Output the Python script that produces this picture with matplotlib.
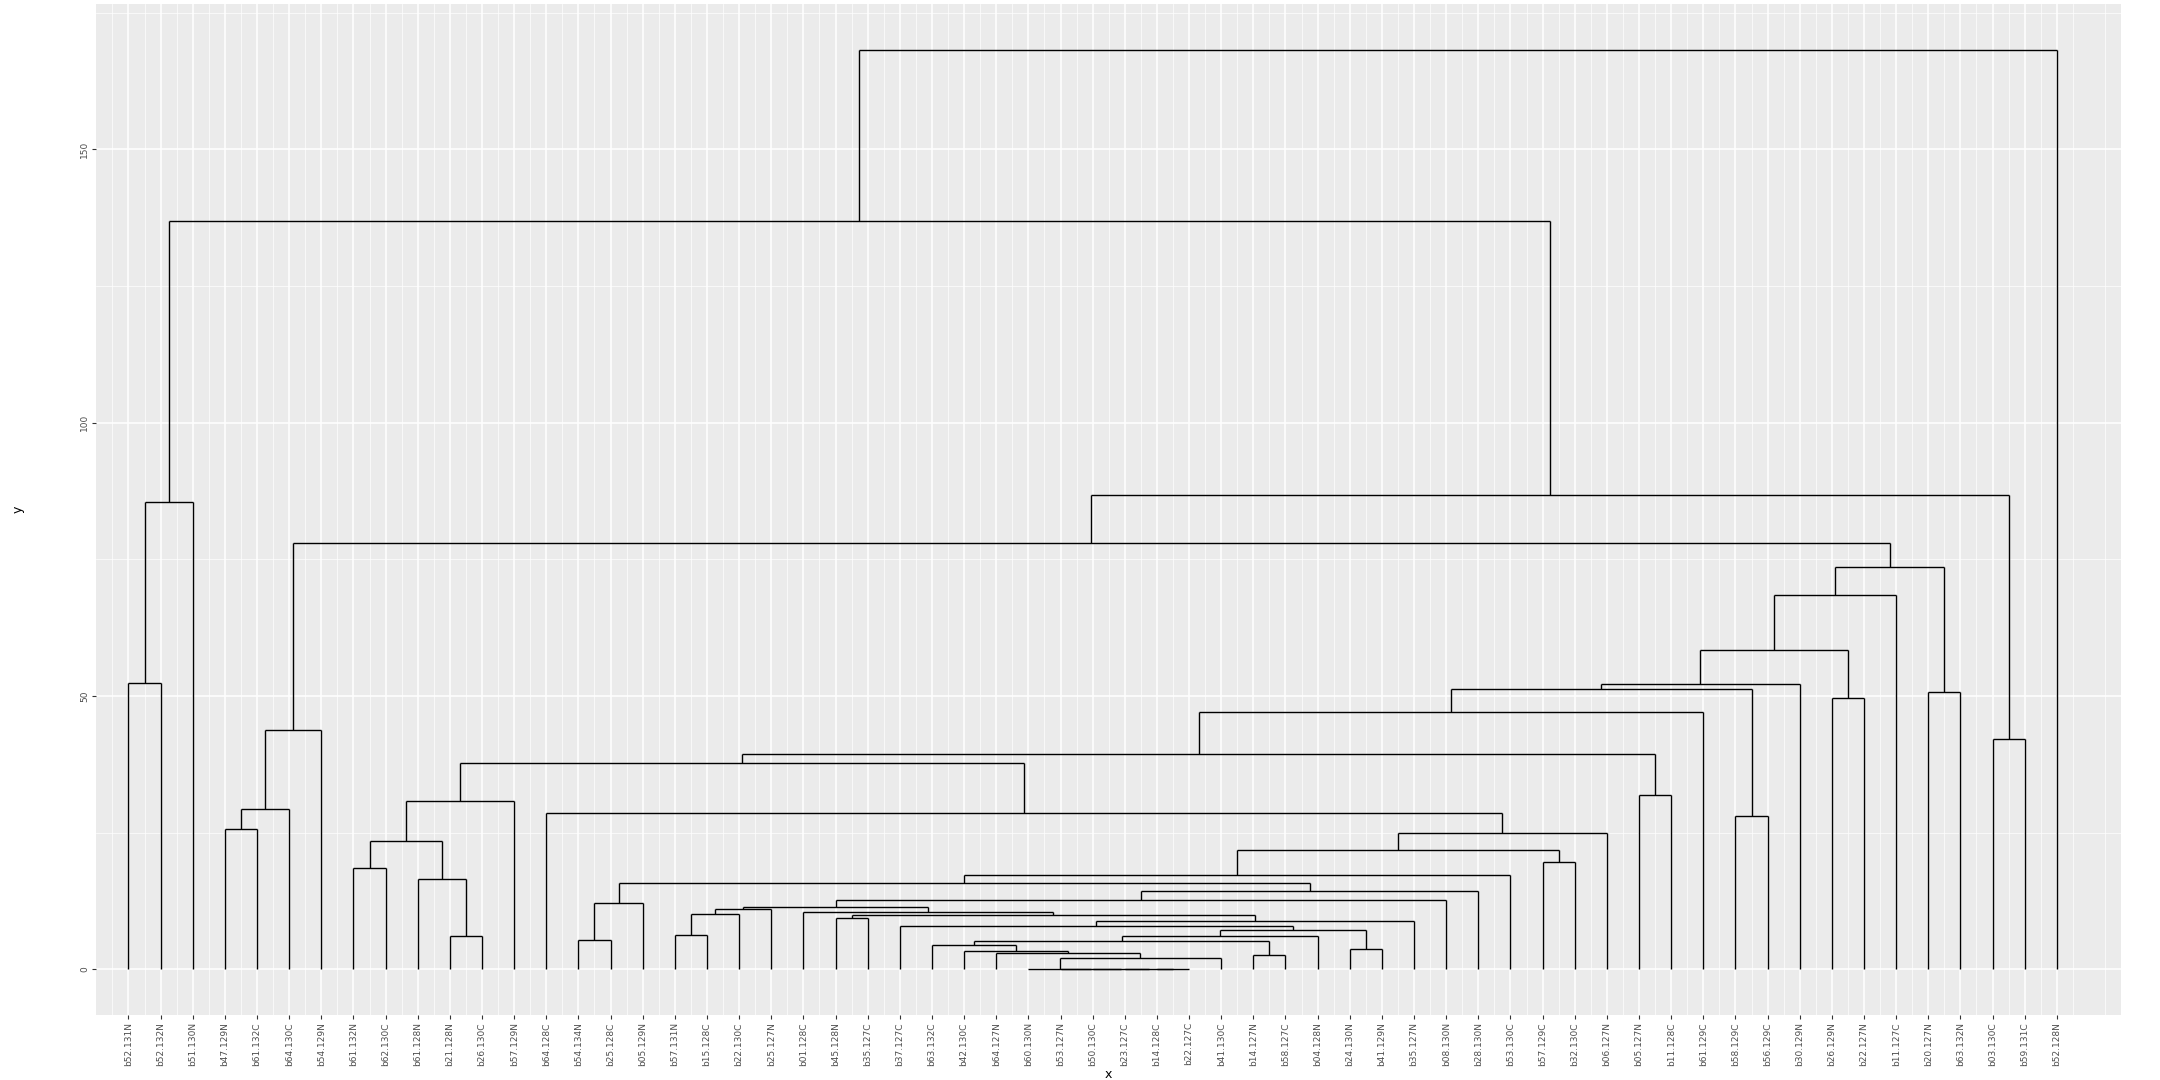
import matplotlib
matplotlib.use('Agg')
import matplotlib.pyplot as plt
from matplotlib.ticker import MultipleLocator

# Leaf labels, left to right
labels = ['b52.131N', 'b52.132N', 'b51.130N', 'b47.129N', 'b61.132C', 'b64.130C', 'b54.129N',
          'b61.132N', 'b62.130C', 'b61.128N', 'b21.128N', 'b26.130C', 'b57.129N', 'b64.128C',
          'b54.134N', 'b25.128C', 'b05.129N', 'b57.131N', 'b15.128C', 'b22.130C', 'b25.127N',
          'b01.128C', 'b45.128N', 'b35.127C', 'b37.127C', 'b63.132C', 'b42.130C', 'b64.127N',
          'b60.130N', 'b53.127N', 'b50.130C', 'b23.127C', 'b14.128C', 'b22.127C', 'b41.130C',
          'b14.127N', 'b58.127C', 'b04.128N', 'b24.130N', 'b41.129N', 'b35.127N', 'b08.130N',
          'b28.130N', 'b53.130C', 'b57.129C', 'b32.130C', 'b06.127N', 'b05.127N', 'b11.128C',
          'b61.129C', 'b58.129C', 'b56.129C', 'b30.129N', 'b26.129N', 'b22.127N', 'b11.127C',
          'b20.127N', 'b63.132N', 'b03.130C', 'b59.131C', 'b52.128N']

# Merges: 'L<n>' = leaf n (1-based), 'M<k>' = k-th merge
merge_left = ['L33', 'L32', 'L31', 'L30', 'L29', 'M4', 'L28', 'L27', 'L26', 'L36',
              'M8', 'M10', 'L39', 'M11', 'L25', 'M14', 'L23', 'M16', 'L22', 'L18',
              'M19', 'M20', 'M21', 'M22', 'M23', 'L15', 'M25', 'M26', 'M27', 'L45',
              'M28', 'M30', 'L14', 'L8', 'L11', 'L10', 'M33', 'M36', 'M37', 'L48',
              'M38', 'M40', 'L51', 'M41', 'M43', 'L54', 'M44', 'M46', 'L57', 'M47',
              'L4', 'M50', 'M51', 'M52', 'L59', 'M53', 'L1', 'M56', 'M57', 'M58']
merge_right = ['L34', 'M0', 'M1', 'M2', 'M3', 'L35', 'M5', 'M6', 'M7', 'L37',
               'M9', 'L38', 'L40', 'M12', 'M13', 'L41', 'L24', 'M15', 'M17', 'L19',
               'L20', 'L21', 'M18', 'L42', 'L43', 'L16', 'L17', 'M24', 'L44', 'L46',
               'M29', 'L47', 'M31', 'L9', 'L12', 'M34', 'M35', 'L13', 'M32', 'L49',
               'M39', 'L50', 'L52', 'M42', 'L53', 'L55', 'M45', 'L56', 'L58', 'M48',
               'L5', 'L6', 'L7', 'M49', 'L60', 'M54', 'L2', 'L3', 'M55', 'L61']
merge_height = [0, 0, 0, 0, 0, 2.0, 2.9, 3.3, 4.5, 2.7,
                5.2, 6.1, 3.7, 7.1, 7.9, 8.8, 9.3, 10.0, 10.4, 6.3,
                10.1, 11.1, 11.4, 12.6, 14.3, 5.3, 12.1, 15.8, 17.3, 19.6,
                21.9, 24.9, 28.6, 18.6, 6.0, 16.6, 23.4, 30.7, 37.7, 31.9,
                39.4, 47.0, 28.0, 51.2, 52.1, 49.6, 58.4, 68.5, 50.8, 73.6,
                25.6, 29.4, 43.7, 78.0, 42.2, 86.8, 52.3, 85.4, 136.9, 168.1]

fig = plt.figure(figsize=(21.6, 10.8), dpi=100)
ax = fig.add_axes([0.0446, 0.060, 0.9374, 0.936])
ax.set_facecolor('#EBEBEB')

pos = {}
hgt = {}
for i in range(len(labels)):
    pos['L%d' % (i + 1)] = i + 1
    hgt['L%d' % (i + 1)] = 0.0

for k, (a, b, h) in enumerate(zip(merge_left, merge_right, merge_height)):
    xa, xb = pos[a], pos[b]
    ax.plot([xa, xb], [h, h], color='black', lw=1.0, solid_capstyle='butt', zorder=3)
    ax.plot([xa, xa], [hgt[a], h], color='black', lw=1.0, solid_capstyle='butt', zorder=3)
    ax.plot([xb, xb], [hgt[b], h], color='black', lw=1.0, solid_capstyle='butt', zorder=3)
    pos['M%d' % k] = (xa + xb) / 2
    hgt['M%d' % k] = h

ax.set_xlim(0.0, 63.0)
ax.set_ylim(-8.4, 176.5)
ax.set_xticks(range(1, len(labels) + 1))
ax.set_xticklabels(labels, rotation=90, fontsize=6.5, color='#4D4D4D')
ax.set_xticks([i + 0.5 for i in range(0, len(labels) + 2)], minor=True)
ax.yaxis.set_major_locator(MultipleLocator(50))
ax.yaxis.set_minor_locator(MultipleLocator(25))
ax.tick_params(axis='y', labelsize=6.5, labelcolor='#4D4D4D', labelrotation=90)
for t in ax.get_yticklabels():
    t.set_va('center')
ax.tick_params(which='major', color='#333333', length=3, width=0.8, pad=2)
ax.tick_params(which='minor', length=0)
ax.grid(True, which='major', color='white', lw=1.1, zorder=0)
ax.grid(True, which='minor', color='white', lw=0.5, zorder=0)
ax.set_axisbelow(True)
for s in ax.spines.values():
    s.set_visible(False)
ax.set_xlabel('x', fontsize=9, labelpad=1)
ax.set_ylabel('y', fontsize=9, labelpad=40)

fig.savefig('out.png', dpi=100)
